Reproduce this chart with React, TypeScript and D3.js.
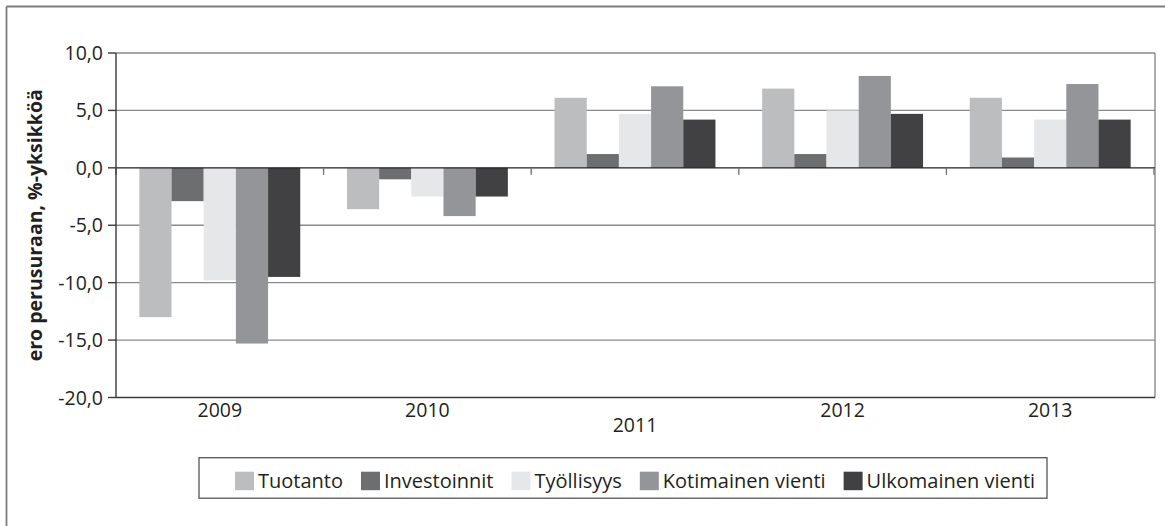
import React from "react";
import * as d3 from "d3";

const categories = ["2009", "2010", "2011", "2012", "2013"];
const seriesNames = ["Tuotanto", "Investoinnit", "Työllisyys", "Kotimainen vienti", "Ulkomainen vienti"];
const tuotanto = [-13.0, -3.6, 6.1, 6.9, 6.1];
const investoinnit = [-2.9, -1.0, 1.2, 1.2, 0.9];
const tyollisyys = [-9.8, -2.5, 4.7, 5.0, 4.2];
const kotimainen = [-15.3, -4.2, 7.1, 8.0, 7.3];
const ulkomainen = [-9.5, -2.5, 4.2, 4.7, 4.2];
const yTicks = [10, 5, 0, -5, -10, -15, -20];
const colors = ["#bcbdbf", "#6d6e70", "#e6e7e8", "#939598", "#414042"];

const seriesValues = [tuotanto, investoinnit, tyollisyys, kotimainen, ulkomainen];

const W = 1165;
const H = 526;
const FONT = "'Open Sans', 'Noto Sans', sans-serif";

function measure(text: string, size: number, weight = "normal") {
  const c = document.createElement("canvas");
  const ctx = c.getContext("2d")!;
  ctx.font = `${weight} ${size}px 'Open Sans'`;
  return ctx.measureText(text).width;
}

export default function App() {
  const left = 116;
  const right = 1154;
  const top = 53;
  const bottom = 397.5;

  const x = d3.scaleBand<string>().domain(categories).range([left, right]).paddingInner(0.225).paddingOuter(0.1125);
  const xs = d3.scaleBand<string>().domain(seriesNames).range([0, x.bandwidth()]).padding(0);
  const y = d3.scaleLinear().domain([-20, 10]).range([bottom, top]);
  const step = x.step();

  const fmt = (v: number) => d3.format(".1f")(v).replace(".", ",").replace("−", "-");

  // legend layout
  const legFont = 20;
  const swatch = 19;
  let lx = 235;
  const legendItems = seriesNames.map((name, i) => {
    const item = { name, x: lx, color: colors[i] };
    lx += swatch + 4 + measure(name, legFont) + 18;
    return item;
  });

  return (
    <svg width={W} height={H} style={{ display: "block", position: "absolute", left: 0, top: 0 }} fontFamily={FONT}>
      <rect x={0} y={0} width={W} height={H} fill="#fff" />
      {/* outer frame */}
      <line x1={6.5} x2={W} y1={6.5} y2={6.5} stroke="#7d7d7d" strokeWidth={1.8} />
      <line x1={6.5} x2={6.5} y1={6.5} y2={H} stroke="#7d7d7d" strokeWidth={1.8} />

      {/* gridlines */}
      {yTicks.filter((t) => t !== 0 && t !== -20).map((t) => (
        <line key={t} x1={left} x2={right + 1} y1={y(t)} y2={y(t)} stroke="#8a8a8a" strokeWidth={1.4} />
      ))}
      <line x1={right + 1} x2={right + 1} y1={top} y2={bottom} stroke="#8a8a8a" strokeWidth={1.4} />

      {/* bars */}
      {seriesValues.map((vals, si) =>
        vals.map((v, ci) => {
          const bx = (x(categories[ci]) as number) + (xs(seriesNames[si]) as number);
          return (
            <rect
              key={`${si}-${ci}`}
              x={bx}
              y={Math.min(y(v), y(0))}
              width={xs.bandwidth()}
              height={Math.abs(y(v) - y(0))}
              fill={colors[si]}
            />
          );
        })
      )}

      {/* bottom axis line at -20 */}
      <line x1={left} x2={right + 1} y1={bottom} y2={bottom} stroke="#3a3a3a" strokeWidth={1.4} />
      {/* zero line */}
      <line x1={left} x2={right + 1} y1={y(0)} y2={y(0)} stroke="#231f20" strokeWidth={1.4} />
      {/* category ticks */}
      {d3.range(categories.length + 1).map((k) => (
        <line key={k} x1={left + k * step} x2={left + k * step} y1={y(0)} y2={y(0) + 7} stroke="#777" strokeWidth={1.4} />
      ))}
      {/* y axis */}
      <line x1={left} x2={left} y1={top} y2={bottom} stroke="#3a3a3a" strokeWidth={1.4} />
      {yTicks.map((t) => (
        <g key={t}>
          <line x1={left - 8} x2={left} y1={y(t)} y2={y(t)} stroke="#3a3a3a" strokeWidth={1.4} />
          <text x={left - 13} y={y(t)} dy="0.36em" textAnchor="end" fontSize={19.5} fill="#231f20">
            {fmt(t)}
          </text>
        </g>
      ))}

      {/* category labels */}
      {categories.map((c, i) => (
        <text key={c} x={(x(c) as number) + x.bandwidth() / 2} y={i === 2 ? 432 : 417} textAnchor="middle" fontSize={19.5} fill="#231f20">
          {c}
        </text>
      ))}

      {/* y title */}
      <text transform={`translate(42, ${(top + bottom) / 2}) rotate(-90)`} textAnchor="middle" fontSize={19.5} fontWeight="bold" fill="#231f20">
        ero perusuraan, %-yksikköä
      </text>

      {/* legend */}
      <rect x={199} y={457.7} width={848} height={40.5} fill="none" stroke="#555" strokeWidth={1.3} />
      {legendItems.map((it) => (
        <g key={it.name}>
          <rect x={it.x} y={471.7} width={swatch} height={18.5} fill={it.color} />
          <text x={it.x + swatch + 4} y={481} dy="0.36em" fontSize={legFont} fill="#231f20">
            {it.name}
          </text>
        </g>
      ))}
    </svg>
  );
}
